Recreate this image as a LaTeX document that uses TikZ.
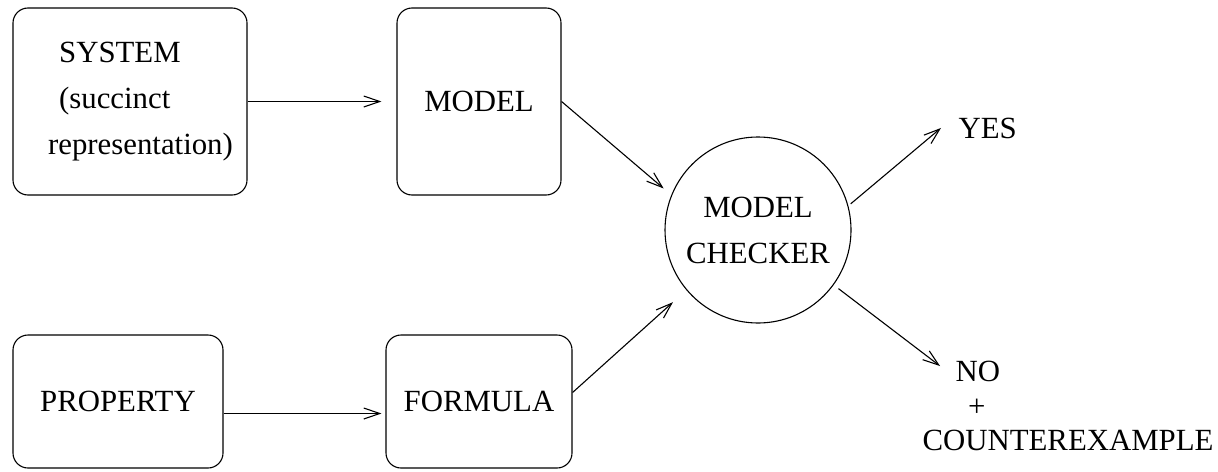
\documentclass[tikz,border=0pt]{standalone}
\usepackage{fontspec}
\setmainfont{Liberation Serif}
\usetikzlibrary{arrows.meta}

\begin{document}
\begin{tikzpicture}[x=0.5pt,y=-0.5pt,line width=0.55pt,
  font=\fontsize{15.4}{23}\selectfont,
  box/.style={draw,rounded corners=7.5pt,inner sep=0pt},
  arr/.style={-{Straight Barb[length=8pt,width=5.5pt]}}]
 \useasboundingbox (0,0) rectangle (1218,471);

 \node[box,minimum width=117pt,minimum height=93.5pt,align=left] (sys) at (130,101.5)
   {\hspace*{16pt}SYSTEM\\ \hspace*{16pt}(succinct\\ \hspace*{10.5pt}representation)};
 \node[box,minimum width=82pt,minimum height=93.5pt] (model) at (479,101.5) {MODEL};
 \node[box,minimum width=105pt,minimum height=66.5pt] (prop) at (118,401.5) {PROPERTY};
 \node[box,minimum width=93pt,minimum height=66.5pt] (form) at (479,401.5) {FORMULA};

 \node[draw,circle,minimum size=93pt,inner sep=0pt,align=center] (mc) at (758,230) {MODEL\\CHECKER};

 \node[inner sep=0pt,anchor=base west] (yes) at (958,138) {YES};
 \node[inner sep=0pt,anchor=north west,align=left,font=\fontsize{15.4}{17.25}\selectfont] (no) at (922,361)
   {\hspace*{16.5pt}NO\\ \hspace*{22.75pt}+\\COUNTEREXAMPLE};

 \draw[arr,shorten >=7.5pt] (sys.east) -- (model.west);
 \draw[arr,shorten >=2pt] ([yshift=-6pt]prop.east) -- ([yshift=-6pt]form.west);
 \draw[arr,shorten >=5pt] (model.east) -- (mc.158);
 \draw[arr,shorten >=9pt] ([yshift=4.5pt]form.east) -- (mc.220);
 \draw[arr,shorten <=1.5pt] (mc.15) -- ([xshift=-8.5pt]yes.west);
 \draw[arr,shorten <=3pt] (mc.-36) -- ([shift={(9pt,-2.5pt)}]no.north west);
\end{tikzpicture}
\end{document}
